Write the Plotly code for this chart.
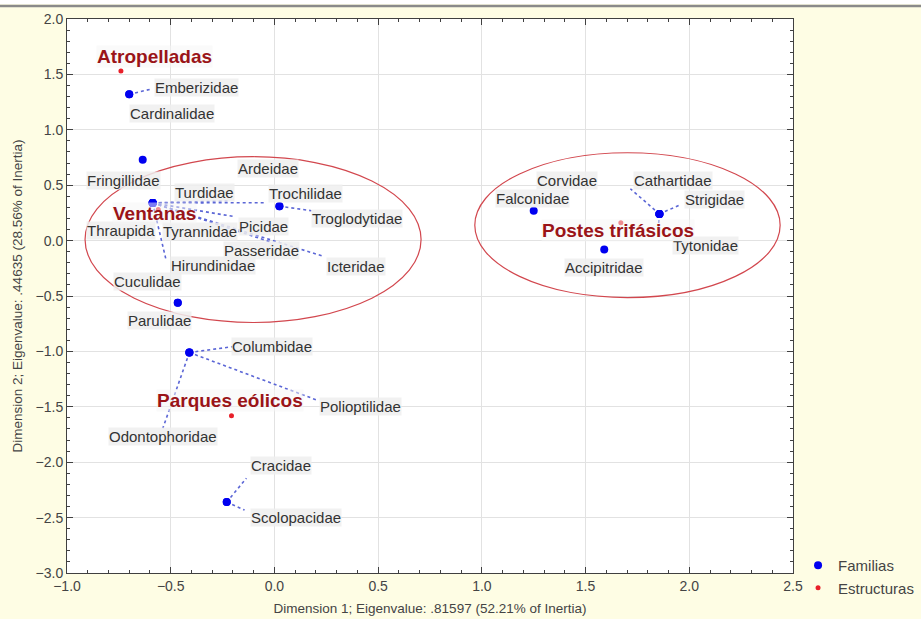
import plotly.graph_objects as go

# ---------------- data ----------------
families = ["Cardinalidae", "Emberizidae", "Fringillidae", "Turdidae", "Trochilidae",
            "Thraupida", "Tyrannidae", "Hirundinidae", "Picidae", "Passeridae",
            "Icteridae", "Ardeidae", "Troglodytidae", "Cuculidae", "Parulidae",
            "Columbidae", "Polioptilidae", "Odontophoridae", "Cracidae", "Scolopacidae",
            "Falconidae", "Corvidae", "Cathartidae", "Strigidae", "Tytonidae", "Accipitridae"]
fam_x = [-0.70, -0.70, -0.635, -0.587, -0.587, -0.587, -0.587, -0.587, -0.587, -0.587,
         -0.587, 0.024, 0.024, -0.466, -0.466, -0.41, -0.41, -0.41, -0.23, -0.23,
         1.25, 1.856, 1.856, 1.856, 1.856, 1.59]
fam_y = [1.32, 1.32, 0.73, 0.34, 0.34, 0.34, 0.34, 0.34, 0.34, 0.34,
         0.34, 0.31, 0.31, -0.56, -0.56, -1.01, -1.01, -1.01, -2.36, -2.36,
         0.27, 0.24, 0.24, 0.24, 0.24, -0.08]
# label centres
fam_lx = [-0.495, -0.375, -0.726, -0.337, 0.149, -0.742, -0.360, -0.298, -0.053, -0.0625,
          0.394, -0.029, 0.399, -0.611, -0.553, -0.014, 0.413, -0.538, 0.034, 0.106,
          1.245, 1.409, 1.923, 2.120, 2.078, 1.591]
fam_ly = [1.144, 1.378, 0.541, 0.432, 0.423, 0.088, 0.081, -0.225, 0.126, -0.09,
          -0.234, 0.649, 0.198, -0.369, -0.721, -0.955, -1.495, -1.766, -2.027, -2.495,
          0.378, 0.541, 0.541, 0.369, -0.040, -0.243]
# leader line end points (None = no leader)
lead_x = [None, -0.591, None, -0.226, -0.048, None, None, -0.524, -0.192, -0.01,
          0.240, None, 0.178, None, None, -0.192, 0.207, -0.538, -0.135, -0.144,
          None, 1.716, None, 1.957, 1.851, None]
lead_y = [None, 1.369, None, 0.360, 0.342, None, None, -0.162, 0.216, -0.018,
          -0.144, None, 0.270, None, None, -0.955, -1.441, -1.694, -2.144, -2.432,
          None, 0.468, None, 0.324, 0.126, None]

structures = ["Atropelladas", "Ventanas", "Parques eólicos", "Postes trifásicos"]
str_x = [-0.74, -0.56, -0.207, 1.67]
str_y = [1.53, 0.28, -1.58, 0.16]
str_lx = [-0.577, -0.577, -0.216, 1.654]
str_ly = [1.658, 0.245, -1.441, 0.095]

# grouping ellipses (x0, x1, y0, y1)
ell_x0 = [-0.913, 0.966]
ell_x1 = [0.707, 2.438]
ell_y0 = [-0.739, -0.514]
ell_y1 = [0.757, 0.793]

x_title = "Dimension 1; Eigenvalue: .81597 (52.21% of Inertia)"
y_title = "Dimension 2; Eigenvalue: .44635 (28.56% of Inertia)"

FONT = "Liberation Sans, Arial, sans-serif"

# ---------------- figure ----------------
fig = go.Figure()

lx, ly = [], []
for px, py, ex, ey in zip(fam_x, fam_y, lead_x, lead_y):
    if ex is None:
        continue
    lx += [px, ex, None]
    ly += [py, ey, None]
fig.add_trace(go.Scatter(x=lx, y=ly, mode="lines", showlegend=False, hoverinfo="skip",
                         line=dict(color="#5B66D6", width=1.6, dash="dot")))

fig.add_trace(go.Scatter(x=fam_x, y=fam_y, mode="markers", name="Familias",
                         text=families,
                         marker=dict(color="#0000F0", size=8)))
fig.add_trace(go.Scatter(x=str_x, y=str_y, mode="markers", name="Estructuras",
                         text=structures,
                         marker=dict(color="#E8202A", size=5)))

for x0, x1, y0, y1 in zip(ell_x0, ell_x1, ell_y0, ell_y1):
    fig.add_shape(type="circle", xref="x", yref="y", x0=x0, x1=x1, y0=y0, y1=y1,
                  line=dict(color="#D2474E", width=1.2), layer="above")

for name, x, y in zip(families, fam_lx, fam_ly):
    fig.add_annotation(x=x, y=y, text=name, showarrow=False, xref="x", yref="y",
                       font=dict(family=FONT, size=15, color="#333333"),
                       bgcolor="rgba(238,238,238,0.85)", borderpad=0)
for name, x, y in zip(structures, str_lx, str_ly):
    fig.add_annotation(x=x, y=y, text="<b>%s</b>" % name, showarrow=False, xref="x", yref="y",
                       font=dict(family=FONT, size=19, color="#9A1418"),
                       bgcolor="rgba(245,245,245,0.5)", borderpad=0)

# top grey rule of the picture
fig.add_shape(type="rect", xref="paper", yref="paper", x0=-0.2, x1=1.3, y0=1.027, y1=1.05,
              fillcolor="white", line=dict(width=0), layer="above")
fig.add_shape(type="line", xref="paper", yref="paper", x0=-0.2, x1=1.3, y0=1.0235, y1=1.0235,
              line=dict(color="#8A8A8A", width=2.5), layer="above")

axis_common = dict(
    ticks="inside", ticklen=6, tickcolor="#404040", tickwidth=1,
    showline=True, linecolor="#404040", linewidth=1, mirror="allticks",
    showgrid=True, gridcolor="#E2E2E2", gridwidth=1, zeroline=False,
    tickformat=".1f", tickfont=dict(family=FONT, size=14, color="#444444"),
    minor=dict(ticks="inside", ticklen=3, tickcolor="#404040", dtick=0.1, showgrid=False),
)
fig.update_xaxes(range=[-1, 2.5], dtick=0.5, tick0=0, automargin=False,
                 title=dict(text=x_title, standoff=10,
                            font=dict(family=FONT, size=13.5, color="#444444")),
                 **axis_common)
fig.update_yaxes(range=[-3, 2], dtick=0.5, tick0=0, automargin=False,
                 title=dict(text=y_title, standoff=9,
                            font=dict(family=FONT, size=13.5, color="#444444")),
                 **axis_common)

fig.update_layout(
    width=921, height=619,
    margin=dict(l=67, r=128, t=19, b=46, autoexpand=False),
    paper_bgcolor="#FEFDE4", plot_bgcolor="white",
    font=dict(family=FONT, color="#444444"),
    legend=dict(xref="container", yref="container", x=0.8665, xanchor="left",
                y=0.113, yanchor="top", tracegroupgap=0,
                bgcolor="rgba(0,0,0,0)", font=dict(family=FONT, size=15, color="#444444"),
                itemsizing="trace"),
    showlegend=True,
)

fig.write_html("out.html", config={"displayModeBar": False},
               post_script="document.body.style.margin='0';")
